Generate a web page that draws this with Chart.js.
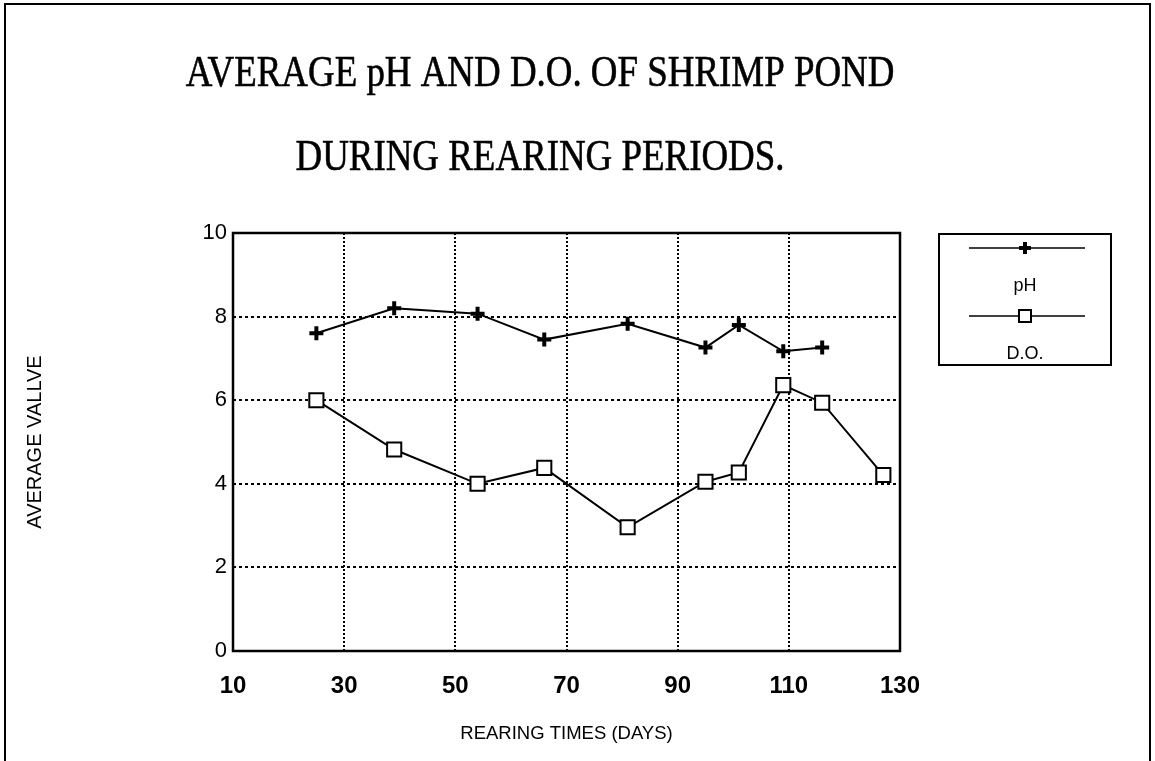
<!DOCTYPE html>
<html>
<head>
<meta charset="utf-8">
<script src="https://cdn.jsdelivr.net/npm/chart.js@4.4.1/dist/chart.umd.min.js"></script>
<style>
html, body { margin: 0; padding: 0; background: #fff; overflow: hidden; }
#marco { position: absolute; left: 4px; top: 3px; width: 1143px; height: 800px; border: 2px solid #000; }
canvas { position: absolute; left: 0; top: 0; }
</style>
</head>
<body>
<div id="marco"></div>
<canvas id="grafico" width="1155" height="761"></canvas>
<script>
// DATOS
const diasPH = [25, 39, 54, 66, 81, 95, 101, 109, 116]
const valoresPH = [7.6, 8.2, 8.07, 7.45, 7.83, 7.26, 7.8, 7.17, 7.26]
const diasOD = [25, 39, 54, 66, 81, 95, 101, 109, 116, 127]
const valoresOD = [6.0, 4.82, 4.0, 4.38, 2.96, 4.05, 4.27, 6.36, 5.94, 4.21]
const etiquetasX = [10, 30, 50, 70, 90, 110, 130]
const etiquetasY = [0, 2, 4, 6, 8, 10]
const titulo = ["AVERAGE pH AND D.O. OF SHRIMP POND", "DURING REARING PERIODS."]

// PLUGINS
const tituloPlugin = {
    id: "tituloPlugin",
    afterDraw(chart) {
        const ctx = chart.ctx
        ctx.save()
        ctx.fillStyle = "#000"
        ctx.strokeStyle = "#000"
        ctx.lineWidth = 0.6
        ctx.font = "45px 'Liberation Serif'"
        ctx.textAlign = "center"
        ctx.textBaseline = "alphabetic"
        ctx.translate(540, 0)
        ctx.scale(0.82, 1) // letra estrecha como en el original
        titulo.forEach((linea, i) => {
            ctx.fillText(linea, 0, 86 + i * 84)
            ctx.strokeText(linea, 0, 86 + i * 84)
        })
        ctx.restore()
    },
}

const marcoPlugin = {
    id: "marcoPlugin",
    afterDatasetsDraw(chart) {
        const { left, top, right, bottom } = chart.chartArea
        const ctx = chart.ctx
        ctx.save()
        ctx.strokeStyle = "#000"
        ctx.lineWidth = 2.5
        ctx.strokeRect(left, top, right - left, bottom - top)
        ctx.restore()
    },
}

const leyendaPlugin = {
    id: "leyendaPlugin",
    afterDraw(chart) {
        const ctx = chart.ctx
        const x0 = chart.chartArea.right + 39
        const y0 = chart.chartArea.top + 1
        const cx = x0 + 86
        ctx.save()
        ctx.strokeStyle = "#000"
        ctx.lineWidth = 2
        ctx.strokeRect(x0, y0, 172, 131)
        chart.data.datasets.forEach((ds, i) => {
            const y = y0 + 14 + i * 68
            ctx.beginPath()
            ctx.lineWidth = 1.5
            ctx.moveTo(x0 + 30, y)
            ctx.lineTo(x0 + 146, y)
            ctx.stroke()
            ctx.fillStyle = ds.pointBackgroundColor
            ctx.lineWidth = ds.pointBorderWidth
            Chart.helpers.drawPoint(ctx, {
                pointStyle: ds.pointStyle,
                radius: ds.pointRadius * 0.85,
                borderWidth: ds.pointBorderWidth,
                rotation: 0,
            }, cx, y)
            ctx.fillStyle = "#000"
            ctx.font = "18px 'Liberation Sans'"
            ctx.textAlign = "center"
            ctx.textBaseline = "middle"
            ctx.fillText(ds.label, cx, y + 38)
        })
        ctx.restore()
    },
}

// GRÁFICO
const ctx = document.getElementById("grafico").getContext("2d")
new Chart(ctx, {
    type: "scatter",
    data: {
        datasets: [
            {
                label: "pH",
                data: diasPH.map((d, i) => ({ x: d, y: valoresPH[i] })),
                showLine: true,
                borderColor: "#000",
                borderWidth: 2,
                tension: 0,
                pointStyle: "cross",
                pointRadius: 7,
                pointBorderWidth: 4,
                pointBorderColor: "#000",
                pointBackgroundColor: "#000",
            },
            {
                label: "D.O.",
                data: diasOD.map((d, i) => ({ x: d, y: valoresOD[i] })),
                showLine: true,
                borderColor: "#000",
                borderWidth: 2,
                tension: 0,
                pointStyle: "rect",
                pointRadius: 10,
                pointBorderWidth: 2,
                pointBorderColor: "#000",
                pointBackgroundColor: "#fff",
            },
        ],
    },
    options: {
        responsive: false,
        animation: false,
        layout: { padding: { top: 233, right: 255, left: 0, bottom: 0 } },
        plugins: {
            legend: { display: false },
            title: { display: false },
            tooltip: { enabled: false },
        },
        scales: {
            x: {
                type: "linear",
                min: 10,
                max: 130,
                afterBuildTicks: (scale) => { scale.ticks = etiquetasX.map(v => ({ value: v })) },
                afterFit: (scale) => { scale.height = 110 },
                grid: { color: "#000", lineWidth: 2, drawTicks: false },
                border: { display: false, dash: [2, 2] },
                ticks: {
                    color: "#000",
                    padding: 21,
                    maxRotation: 0,
                    autoSkip: false,
                    font: { family: "Liberation Sans", size: 24, weight: "bold" },
                },
                title: {
                    display: true,
                    text: "REARING TIMES (DAYS)",
                    color: "#000",
                    font: { family: "Liberation Sans", size: 18.5 },
                    padding: { top: 0, bottom: 16 },
                },
            },
            y: {
                min: 0,
                max: 10,
                afterBuildTicks: (scale) => { scale.ticks = etiquetasY.map(v => ({ value: v })) },
                afterFit: (scale) => { scale.width = 233 },
                grid: { color: "#000", lineWidth: 2, drawTicks: false },
                border: { display: false, dash: [3, 3] },
                ticks: {
                    color: "#000",
                    padding: 6,
                    font: { family: "Liberation Sans", size: 22 },
                },
                title: {
                    display: true,
                    text: "AVERAGE VALLVE",
                    color: "#000",
                    font: { family: "Liberation Sans", size: 20 },
                    padding: { top: 23, bottom: 0 },
                },
            },
        },
    },
    plugins: [tituloPlugin, marcoPlugin, leyendaPlugin],
})
</script>
</body>
</html>
